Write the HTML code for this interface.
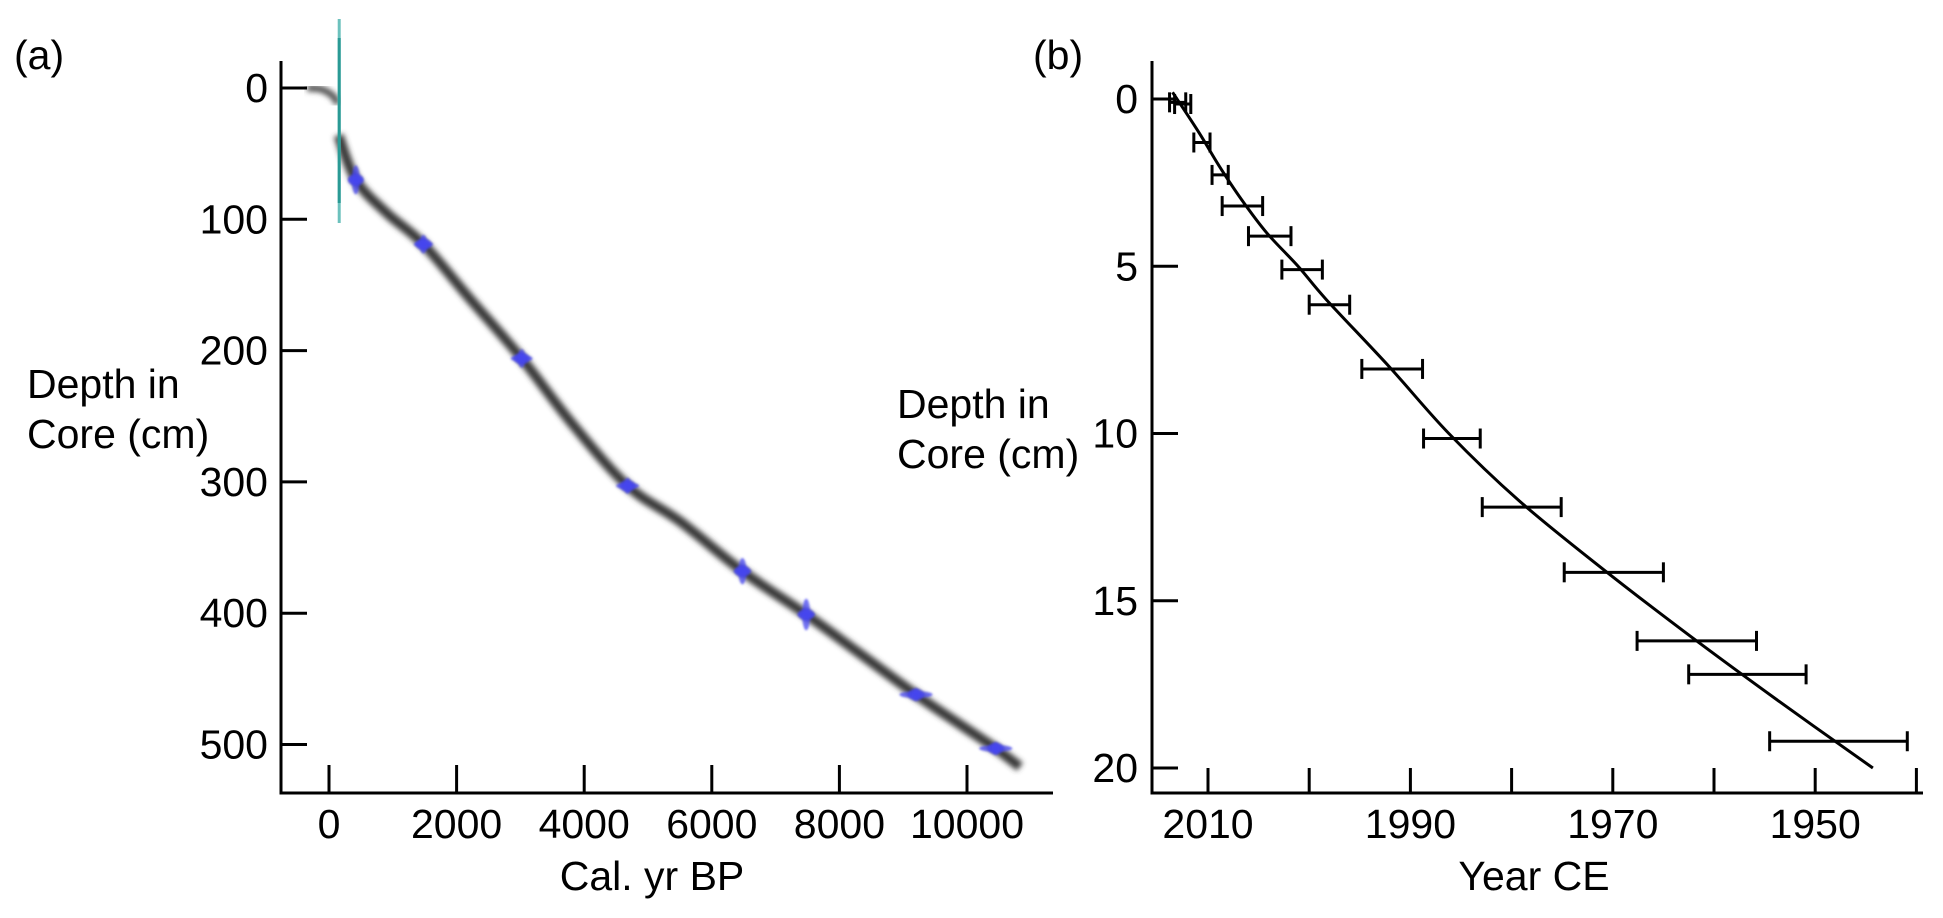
<!DOCTYPE html>
<html><head><meta charset="utf-8"><style>
html,body{margin:0;padding:0;background:#fff;}
svg{display:block;font-family:"Liberation Sans",Arial,sans-serif;}
text{font-size:41px;fill:#000;}
</style></head><body>
<svg id="fig" width="1943" height="918" viewBox="0 0 1943 918" xmlns="http://www.w3.org/2000/svg">
<defs><filter id="blur" x="-10%" y="-10%" width="120%" height="120%"><feGaussianBlur stdDeviation="2.6"/></filter>
<filter id="blur2" x="-20%" y="-20%" width="140%" height="140%"><feGaussianBlur stdDeviation="1"/></filter></defs>
<g id="pa"></g>
<g id="pb"></g>
</svg>
<script>
// Panel (a) data
const aXTicks = [0,2000,4000,6000,8000,10000];
const aYTicks = [0,100,200,300,400,500];
const bandAge = [-340,-120,60,140];
const bandDepth = [0,1,6,12];
const band2Age = [150,420,900,1480,2200,3020,3800,4680,5500,6480,7480,8300,9200,9900,10450,10830];
const band2Depth = [36,70,95,119,160,206,255,303,330,368,401,430,462,485,503,517];
const dateAge = [420,1480,3020,4680,6480,7480,9200,10450];
const dateDepth = [70,119,206,303,368,401,462,503];
const dateAgeErr = [120,150,170,180,140,140,260,260];
const dateDepthErr = [8,4,4,3,7,9,2,2];
const surfaceAge = 160;
// Panel (b) data
const bXTicks = [2010,2000,1990,1980,1970,1960,1950,1940];
const bXLabels = [2010,1990,1970,1950];
const bYTicks = [0,5,10,15,20];
const pbDepth = [0.1,0.15,1.3,2.27,3.2,4.1,5.1,6.15,8.07,10.15,12.2,14.15,16.2,17.2,19.2];
const pbYear = [2013,2012.5,2010.6,2008.8,2006.6,2003.9,2000.7,1998,1991.8,1985.9,1979,1969.9,1961.7,1956.7,1947.7];
const pbErr = [0.8,0.8,0.8,0.8,2.0,2.1,2.0,2.0,3.0,2.8,3.9,4.9,5.9,5.8,6.8];
const curveDepth = [-0.2,1,2,3,4,5,6,8,10,12,14,16,18,20];
const curveYear = [2013.5,2010.9,2008.9,2006.7,2004.2,2001.1,1998.3,1992.1,1986.2,1979.3,1971.2,1962.6,1953.6,1944.3];

const NS='http://www.w3.org/2000/svg';
function mk(parent,tag,attrs,txt){const e=document.createElementNS(NS,tag);for(const k in attrs)e.setAttribute(k,attrs[k]);if(txt!==undefined)e.textContent=txt;parent.appendChild(e);return e;}
function smooth(p){let d='M'+p[0][0]+','+p[0][1];for(let i=0;i<p.length-1;i++){const p0=p[i-1]||p[i],p1=p[i],p2=p[i+1],p3=p[i+2]||p2;
 d+=' C'+(p1[0]+(p2[0]-p0[0])/6)+','+(p1[1]+(p2[1]-p0[1])/6)+' '+(p2[0]-(p3[0]-p1[0])/6)+','+(p2[1]-(p3[1]-p1[1])/6)+' '+p2[0]+','+p2[1];}return d;}

const ax=a=>329+a*(127.6/2000);
const ay=d=>88+d*1.313;
const bx=y=>1208+(2010-y)*10.12;
const by=d=>99+d*33.45;

const pa=document.getElementById('pa');
const pb=document.getElementById('pb');

// ---- Panel a ----
let t=mk(pa,'text',{x:14,y:69,'font-size':50},'(a)');

let yl=mk(pa,'text',{x:27,y:398},'Depth in');

mk(pa,'text',{x:27,y:448},'Core (cm)');
let xl=mk(pa,'text',{x:652,y:890,'text-anchor':'middle'},'Cal. yr BP');


const pts1=bandAge.map((a,i)=>[ax(a),ay(bandDepth[i])]);
const pts2=band2Age.map((a,i)=>[ax(a),ay(band2Depth[i])]);
let band=mk(pa,'path',{d:smooth(pts1),fill:'none',stroke:'#555','stroke-width':7,filter:'url(#blur)'});

band=mk(pa,'path',{d:smooth(pts2),fill:'none',stroke:'#3a3a3a','stroke-width':10,filter:'url(#blur)'});


dateAge.forEach((a,i)=>{
  const g=mk(pa,'g',{fill:'#4646f0','fill-opacity':0.75,filter:'url(#blur2)'});
  
  const cx=ax(a),cy=ay(dateDepth[i]);
  const hw=dateAgeErr[i]*(127.6/2000),hh=dateDepthErr[i]*1.313;
  mk(g,'ellipse',{cx:cx,cy:cy,rx:hw,ry:3.5});
  mk(g,'ellipse',{cx:cx,cy:cy,rx:4,ry:hh+4});
  mk(g,'ellipse',{cx:cx,cy:cy,rx:8,ry:6});
});

let sl=mk(pa,'line',{x1:ax(surfaceAge),x2:ax(surfaceAge),y1:19,y2:223,stroke:'#6cc1bd','stroke-width':3});

mk(pa,'line',{x1:ax(surfaceAge),x2:ax(surfaceAge),y1:38,y2:203,stroke:'#2a9a95','stroke-width':3});

let yax=mk(pa,'line',{x1:281,x2:281,y1:61,y2:794,stroke:'#000','stroke-width':3});

let xax=mk(pa,'line',{x1:279.5,x2:1053,y1:793,y2:793,stroke:'#000','stroke-width':3});

aYTicks.forEach(v=>{
  mk(pa,'line',{x1:281,x2:307,y1:ay(v),y2:ay(v),stroke:'#000','stroke-width':3});
  const tl=mk(pa,'text',{x:268,y:ay(v)+14,'text-anchor':'end'},String(v));
  
});
aXTicks.forEach(v=>{
  mk(pa,'line',{x1:ax(v),x2:ax(v),y1:765,y2:793,stroke:'#000','stroke-width':3});
  const tl=mk(pa,'text',{x:ax(v),y:838,'text-anchor':'middle'},String(v));
  
});

// ---- Panel b ----
t=mk(pb,'text',{x:1033,y:69,'font-size':50},'(b)');

yl=mk(pb,'text',{x:897,y:418},'Depth in');

mk(pb,'text',{x:897,y:468},'Core (cm)');
xl=mk(pb,'text',{x:1534,y:890,'text-anchor':'middle'},'Year CE');


yax=mk(pb,'line',{x1:1152,x2:1152,y1:61,y2:794,stroke:'#000','stroke-width':3});

xax=mk(pb,'line',{x1:1150.5,x2:1923,y1:793,y2:793,stroke:'#000','stroke-width':3});

bYTicks.forEach(v=>{
  mk(pb,'line',{x1:1152,x2:1178,y1:by(v),y2:by(v),stroke:'#000','stroke-width':3});
  const tl=mk(pb,'text',{x:1138,y:by(v)+14,'text-anchor':'end'},String(v));
  
});
bXTicks.forEach(v=>{
  const tk=mk(pb,'line',{x1:bx(v),x2:bx(v),y1:768,y2:793,stroke:'#000','stroke-width':3});
  
});
bXLabels.forEach(v=>{
  const tl=mk(pb,'text',{x:bx(v),y:838,'text-anchor':'middle'},String(v));
  
});

pbDepth.forEach((d,i)=>{
  const g=mk(pb,'g',{stroke:'#000','stroke-width':3,fill:'none'});
  
  const x1=bx(pbYear[i]+pbErr[i]),x2=bx(pbYear[i]-pbErr[i]),y=by(d);
  mk(g,'line',{x1:x1,x2:x2,y1:y,y2:y});
  mk(g,'line',{x1:x1,x2:x1,y1:y-10,y2:y+10});
  mk(g,'line',{x1:x2,x2:x2,y1:y-10,y2:y+10});
});
const cpts=curveDepth.map((d,i)=>[bx(curveYear[i]),by(d)]);
const cv=mk(pb,'path',{d:smooth(cpts),fill:'none',stroke:'#000','stroke-width':3});

</script>
</body></html>
